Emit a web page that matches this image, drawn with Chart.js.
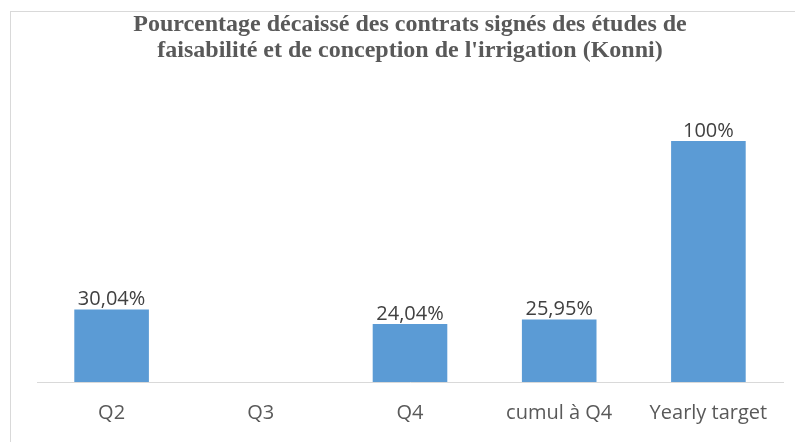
<!DOCTYPE html>
<html>
<head>
<meta charset="utf-8">
<script src="https://cdn.jsdelivr.net/npm/chart.js@4"></script>
<style>
  html,body{margin:0;padding:0;background:#fff;width:795px;height:442px;overflow:hidden;}
  #box{position:absolute;left:10px;top:11px;width:800px;height:450px;border-left:1px solid #d9d9d9;border-top:1px solid #d9d9d9;box-sizing:border-box;}
  #wrap{position:absolute;left:-11px;top:-12px;width:795px;height:442px;}
</style>
</head>
<body>
<div id="box"><div id="wrap"><canvas id="c" width="795" height="442"></canvas></div></div>
<script>
const categories = ['Q2', 'Q3', 'Q4', 'cumul à Q4', 'Yearly target'];
const values = [30.04, null, 24.04, 25.95, 100];
const titleLines = ['Pourcentage décaissé des contrats signés des études de', "faisabilité et de conception de l'irrigation (Konni)"];

function fmt(v){
  if (v === null || v === undefined) return '';
  return (Number.isInteger(v) ? String(v) : v.toFixed(2).replace('.', ',')) + '%';
}

const labelPlugin = {
  id: 'barLabels',
  afterDatasetsDraw(chart){
    const ctx = chart.ctx;
    const meta = chart.getDatasetMeta(0);
    ctx.save();
    ctx.font = '20px "Open Sans"';
    ctx.fillStyle = '#404040';
    ctx.textAlign = 'center';
    ctx.textBaseline = 'bottom';
    meta.data.forEach((el, i) => {
      const v = chart.data.datasets[0].data[i];
      if (v === null) return;
      ctx.fillText(fmt(v), el.x, el.y);
    });
    ctx.restore();
  }
};

new Chart(document.getElementById('c'), {
  type: 'bar',
  data: {
    labels: categories,
    datasets: [{
      data: values,
      backgroundColor: '#5b9bd5',
      borderWidth: 0,
      barPercentage: 0.5,
      categoryPercentage: 1.0
    }]
  },
  options: {
    responsive: false,
    animation: false,
    layout: { padding: { left: 37, right: 12, top: 0, bottom: -2 } },
    plugins: {
      legend: { display: false },
      tooltip: { enabled: false },
      title: {
        display: true,
        text: titleLines,
        color: '#595959',
        font: { family: '"Liberation Serif", "Times New Roman", serif', size: 24, weight: 'bold', lineHeight: 1.08 },
        padding: { top: 12, bottom: 29 }
      }
    },
    scales: {
      x: {
        grid: { display: false, drawTicks: false },
        border: { display: true, color: '#d9d9d9', width: 1 },
        ticks: { color: '#595959', font: { family: '"Open Sans"', size: 20 }, padding: 19 }
      },
      y: {
        display: false,
        min: 0,
        max: 120
      }
    }
  },
  plugins: [labelPlugin]
});
</script>
</body>
</html>
